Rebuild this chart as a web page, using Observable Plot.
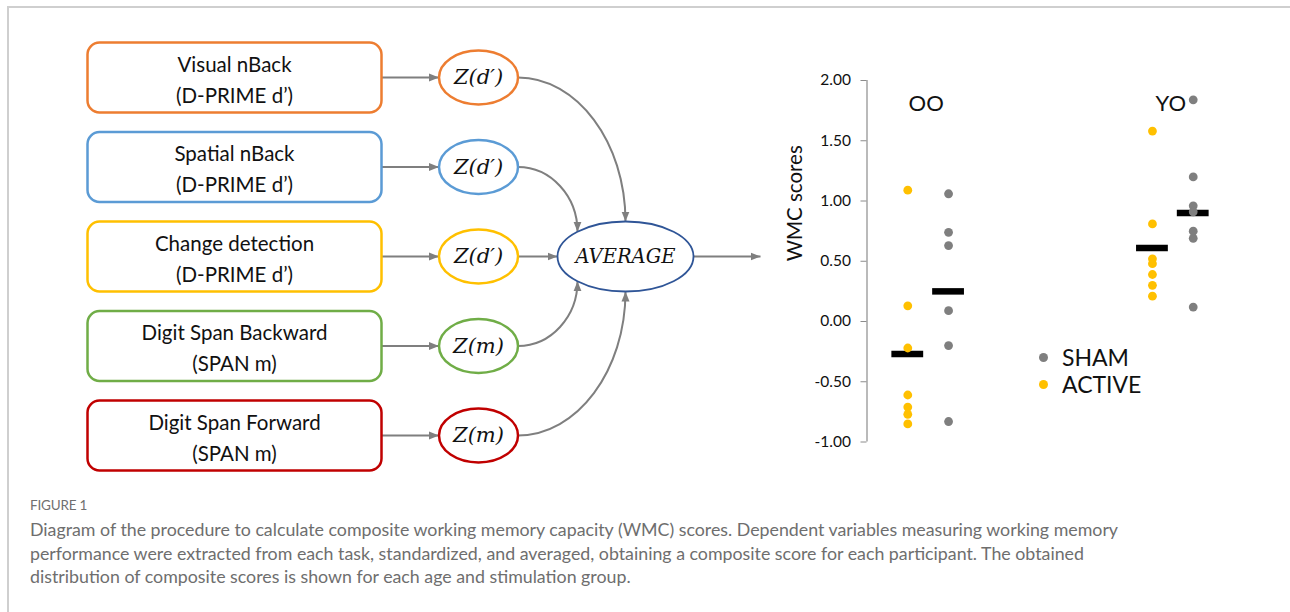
<!DOCTYPE html>
<html>
<head>
<meta charset="utf-8">
<script src="https://cdn.jsdelivr.net/npm/d3@7"></script>
<script src="https://cdn.jsdelivr.net/npm/@observablehq/plot@0.6"></script>
<style>
  html, body { margin: 0; padding: 0; background: #fff; }
  #page { position: relative; width: 1290px; height: 612px; overflow: hidden; background: #fff; font-family: Lato, sans-serif; }
  #frame { position: absolute; left: 7px; top: 6px; right: -4px; bottom: -4px; border-top: 2px solid #cfcfcf; border-left: 2px solid #cfcfcf; }
  #diagram { position: absolute; left: 0; top: 0; width: 780px; height: 480px; }
  #chart { position: absolute; left: 760px; top: 40px; width: 500px; height: 420px; }
  #legend { position: absolute; left: 1039px; top: 343.5px; font-family: Lato, sans-serif; font-size: 23px; color: #111; }
  #legend .row { display: flex; align-items: center; height: 27.3px; line-height: 27.3px; }
  #legend .sw { width: 9px; height: 9px; border-radius: 50%; margin-right: 14px; }
  #caption { position: absolute; left: 30px; top: 497px; width: 1250px; font-family: Lato, sans-serif; }
  #caption .fig { font-size: 13.5px; line-height: 16px; color: #707070; letter-spacing: -0.2px; }
  #caption .txt { font-size: 17.8px; line-height: 23.5px; color: #6e6e6e; margin-top: 5px; white-space: nowrap; }
</style>
</head>
<body>
<div id="page">
  <div id="frame"></div>
  <div id="diagram"></div>
  <div id="chart"></div>
  <div id="legend"></div>
  <div id="caption">
    <div class="fig">FIGURE 1</div>
    <div class="txt">Diagram of the procedure to calculate composite working memory capacity (WMC) scores. Dependent variables measuring working memory<br>performance were extracted from each task, standardized, and averaged, obtaining a composite score for each participant. The obtained<br>distribution of composite scores is shown for each age and stimulation group.</div>
  </div>
</div>
<script>
// ---------------- DATA ----------------
const tasks = ["Visual nBack", "Spatial nBack", "Change detection", "Digit Span Backward", "Digit Span Forward"];
const measures = ["(D-PRIME d’)", "(D-PRIME d’)", "(D-PRIME d’)", "(SPAN m)", "(SPAN m)"];
const zLabels = ["Z(d′)", "Z(d′)", "Z(d′)", "Z(m)", "Z(m)"];
const taskColors = ["#ED7D31", "#5B9BD5", "#FFC000", "#70AD47", "#C00000"];
const averageLabel = "AVERAGE";

const ageGroups = ["OO", "YO"];
const conditions = ["SHAM", "ACTIVE"];
const conditionColors = ["#7F7F7F", "#FFC000"];
// series: [age group, condition, x position on the scatter axis]
const seriesGroup = ["OO", "OO", "YO", "YO"];
const seriesCondition = ["ACTIVE", "SHAM", "ACTIVE", "SHAM"];
const seriesX = [1, 2, 7, 8];
const ooActive = [1.09, 0.13, -0.22, -0.61, -0.71, -0.77, -0.85];
const ooSham = [1.06, 0.74, 0.63, 0.09, -0.20, -0.83];
const yoActive = [1.58, 0.81, 0.52, 0.48, 0.39, 0.30, 0.21];
const yoSham = [1.84, 1.20, 0.96, 0.91, 0.75, 0.69, 0.12];
const seriesValues = [ooActive, ooSham, yoActive, yoSham];
const seriesMeans = [-0.27, 0.25, 0.61, 0.90];
const yTicks = [-1, -0.5, 0, 0.5, 1, 1.5, 2];
const yLabel = "WMC scores";

// ---------------- DIAGRAM ----------------
const L = {boxCx: 234, boxW: 294, boxH: 70, boxR: 12, zCx: 478, zRx: 39.5, zRy: 27,
           avgCx: 625, avgRx: 68, avgRy: 35, outX: 760, rowStep: 89.5, sideDx: 48};
const centerRow = 2;
const arrowGrey = "#7F7F7F";

const roundRect = (w, h, r) => ({draw(ctx) {
  const x0 = -w / 2, y0 = -h / 2, x1 = w / 2, y1 = h / 2;
  ctx.moveTo(x0 + r, y0); ctx.lineTo(x1 - r, y0); ctx.arcTo(x1, y0, x1, y0 + r, r);
  ctx.lineTo(x1, y1 - r); ctx.arcTo(x1, y1, x1 - r, y1, r);
  ctx.lineTo(x0 + r, y1); ctx.arcTo(x0, y1, x0, y1 - r, r);
  ctx.lineTo(x0, y0 + r); ctx.arcTo(x0, y0, x0 + r, y0, r); ctx.closePath();
}});
const ellipse = (rx, ry) => ({draw(ctx) {
  const k = 0.5523;
  ctx.moveTo(rx, 0);
  ctx.bezierCurveTo(rx, ry * k, rx * k, ry, 0, ry);
  ctx.bezierCurveTo(-rx * k, ry, -rx, ry * k, -rx, 0);
  ctx.bezierCurveTo(-rx, -ry * k, -rx * k, -ry, 0, -ry);
  ctx.bezierCurveTo(rx * k, -ry, rx, -ry * k, rx, 0);
  ctx.closePath();
}});
function curveQuarter(context) {
  let p = [];
  return {
    areaStart() {}, areaEnd() {},
    lineStart() { p = []; },
    point(x, y) { p.push([+x, +y]); },
    lineEnd() {
      const [[x0, y0], [x1, y1]] = p; const k = 0.55;
      context.moveTo(x0, y0);
      context.bezierCurveTo(x0 + k * (x1 - x0), y0, x1, y1 - k * (y1 - y0), x1, y1);
    }
  };
}

const rows = tasks.map((t, i) => ({task: t, row: i, color: taskColors[i], measure: measures[i], z: zLabels[i]}));
const curveRows = rows.filter(d => d.row !== centerRow).map(d => {
  const side = d.row < centerRow ? -1 : 1;
  const dx = Math.abs(d.row - centerRow) === 1 ? -L.sideDx : 0;
  const dy = L.avgRy * Math.sqrt(1 - (dx / L.avgRx) ** 2);
  return {...d, ex: L.avgCx + dx, ey: centerRow + side * dy / L.rowStep};
});

const diagram = Plot.plot({
  width: 780, height: 480, margin: 0,
  x: {domain: [0, 780], range: [0, 780], axis: null},
  y: {domain: [0, 4], range: [77, 77 + 4 * L.rowStep], axis: null},
  color: {type: "identity"},
  style: {fontFamily: "Lato, sans-serif", background: "transparent"},
  marks: [
    Plot.link(rows, {x1: () => L.boxCx + L.boxW / 2, x2: () => L.zCx - L.zRx, y1: "row", y2: "row",
      stroke: arrowGrey, strokeWidth: 2, markerEnd: "arrow"}),
    Plot.link(curveRows, {x1: () => L.zCx + L.zRx, y1: "row", x2: "ex", y2: "ey", curve: curveQuarter,
      stroke: arrowGrey, strokeWidth: 2, markerEnd: "arrow"}),
    Plot.link([averageLabel], {x1: () => L.zCx + L.zRx, x2: () => L.avgCx - L.avgRx, y1: () => centerRow, y2: () => centerRow,
      stroke: arrowGrey, strokeWidth: 2, markerEnd: "arrow"}),
    Plot.link([averageLabel], {x1: () => L.avgCx + L.avgRx, x2: () => L.outX, y1: () => centerRow, y2: () => centerRow,
      stroke: arrowGrey, strokeWidth: 2, markerEnd: "arrow"}),
    Plot.dot(rows, {x: () => L.boxCx, y: "row", symbol: roundRect(L.boxW, L.boxH, L.boxR), stroke: "color", fill: "white", strokeWidth: 2.5}),
    Plot.dot(rows, {x: () => L.zCx, y: "row", symbol: ellipse(L.zRx, L.zRy), stroke: "color", fill: "white", strokeWidth: 2.5}),
    Plot.dot([averageLabel], {x: () => L.avgCx, y: () => centerRow, symbol: ellipse(L.avgRx, L.avgRy), stroke: "#2F5597", fill: "white", strokeWidth: 1.8}),
    Plot.text(rows, {x: () => L.boxCx, y: "row", text: d => d.task + "\n" + d.measure, lineHeight: 1.5, fontSize: 20.5, fill: "#111"}),
    Plot.text(rows, {x: () => L.zCx, y: "row", text: "z", fontFamily: "DejaVu Serif", fontStyle: "italic", fontSize: 21, fill: "#111"}),
    Plot.text([averageLabel], {x: () => L.avgCx, y: () => centerRow, text: d => d, fontFamily: "DejaVu Serif", fontStyle: "italic", fontSize: 19.5, fill: "#111"})
  ]
});
diagram.querySelectorAll("marker").forEach(m => {
  const c = m.getAttribute("stroke") || arrowGrey;
  m.setAttribute("viewBox", "-10 -5 10 10");
  m.setAttribute("markerWidth", 5);
  m.setAttribute("markerHeight", 5);
  m.setAttribute("fill", c);
  m.setAttribute("stroke", "none");
  const p = m.querySelector("path");
  if (p) p.setAttribute("d", "M-10,-4L0,0L-10,4Z");
});
document.getElementById("diagram").appendChild(diagram);

// ---------------- CHART ----------------
const points = seriesValues.flatMap((vals, s) => vals.map(v => ({
  group: seriesGroup[s], condition: seriesCondition[s], x: seriesX[s], value: v})));
const means = seriesMeans.map((m, s) => ({group: seriesGroup[s], condition: seriesCondition[s], x: seriesX[s], value: m}));
const groupLabels = ageGroups.map(g => ({group: g, x: d3.mean(seriesX.filter((x, s) => seriesGroup[s] === g))}));
const condColor = c => conditionColors[conditions.indexOf(c)];

const chart = Plot.plot({
  width: 500, height: 420,
  marginLeft: 106.5, marginRight: 26.5, marginTop: 40, marginBottom: 18.5,
  x: {domain: [0, 9], axis: null},
  y: {domain: [-1, 2], axis: null},
  style: {fontFamily: "Lato, sans-serif", fontSize: "15.5px", color: "#111", background: "transparent"},
  marks: [
    Plot.ruleX([0], {y1: -1, y2: 2, stroke: "#8c8c8c", strokeWidth: 1.2}),
    Plot.axisY({ticks: yTicks, tickFormat: d => d.toFixed(2), tickSize: 6, tickPadding: 10, stroke: "#8c8c8c", label: null}),
    Plot.ruleY(means, {y: "value", x1: d => d.x - 0.39, x2: d => d.x + 0.39, stroke: "black", strokeWidth: 6.5}),
    Plot.dot(points, {x: "x", y: "value", r: 4.4, fill: d => condColor(d.condition), stroke: null}),
    Plot.text(groupLabels, {x: "x", text: "group", frameAnchor: "top", dy: 15, dx: -2, fontSize: 22, fill: "#111"}),
    Plot.text([yLabel], {frameAnchor: "left", text: d => d, rotate: -90, dx: -71.5, fontSize: 20.5, fill: "#111"})
  ]
});
document.getElementById("chart").appendChild(chart);

// ---------------- LEGEND ----------------
const legend = document.getElementById("legend");
conditions.forEach((c, i) => {
  const row = document.createElement("div");
  row.className = "row";
  const sw = document.createElement("span");
  sw.className = "sw";
  sw.style.background = conditionColors[i];
  const tx = document.createElement("span");
  tx.textContent = c;
  row.appendChild(sw); row.appendChild(tx);
  legend.appendChild(row);
});
</script>
</body>
</html>
